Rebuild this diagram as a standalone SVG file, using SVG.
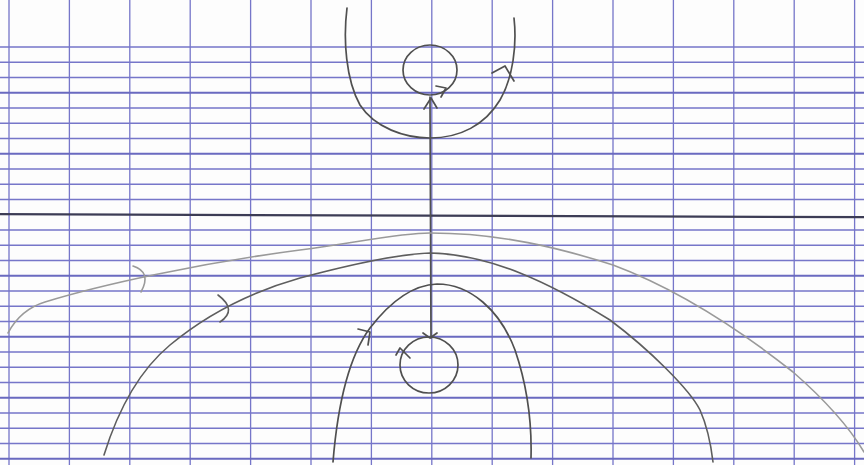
<svg xmlns="http://www.w3.org/2000/svg" width="864" height="465" viewBox="0 0 864 465">
<style>
.g{stroke:#7676c9;stroke-width:1.3;fill:none}
.gt{stroke:#6a6ac0;stroke-width:2;fill:none}
.p{stroke:#505050;stroke-width:1.7;fill:none;stroke-linecap:round;stroke-linejoin:round}
.pl{stroke:#9a9a9a;stroke-width:1.6;fill:none;stroke-linecap:round;stroke-linejoin:round}
.pm{stroke:#5e5e5e;stroke-width:1.6;fill:none;stroke-linecap:round;stroke-linejoin:round}
</style>
<rect width="864" height="465" fill="#fdfdfd"/>
<g id="grid">
<g class="g">
<path d="M9,0V465M69.4,0V465M129.8,0V465M190.2,0V465M250.6,0V465M311,0V465M371.4,0V465M431.8,0V465M492.2,0V465M552.6,0V465M613,0V465M673.4,0V465M733.8,0V465M794.2,0V465M854.6,0V465"/>
<path d="M0,47H864M0,62.25H864M0,77.5H864M0,108H864M0,123.25H864M0,138.5H864M0,169H864M0,184.25H864M0,199.5H864M0,230H864M0,245.25H864M0,260.5H864M0,291H864M0,306.25H864M0,321.5H864M0,352H864M0,367.25H864M0,382.5H864M0,413H864M0,428.25H864M0,443.5H864"/>
</g>
<path class="gt" d="M0,92.75H864M0,153.75H864M0,275.75H864M0,336.75H864M0,397.75H864M0,458.75H864"/>
<path d="M0,214.2L864,217.2" stroke="#3c3c55" stroke-width="2.2"/>
</g>
<g id="sketch">
<path id="upper-u" class="p" d="M347,8 C343,40 346,80 360,105 C375,128 405,138 430,138 C460,138 485,125 500,100 C513,78 517,45 514,18"/>
<path class="p" d="M492,73 L505,66 L514,81"/>
<ellipse id="top-circle" class="p" cx="430" cy="70" rx="27" ry="25"/>
<path class="p" d="M436,86 L446,88 L441,97"/>
<path id="axis-line" class="p" d="M430,97 L431,338"/>
<path class="p" d="M424,109 L431,98 L437,108"/>
<path class="p" d="M423,333 L430,338 L437,333"/>
<ellipse id="bottom-circle" class="p" cx="429" cy="365" rx="29" ry="28"/>
<path class="p" d="M396,355 L400,348 L410,358"/>
<path id="inner-arch" class="p" d="M333,462 C338,400 350,355 370,328 C390,302 412,285 437,284 C470,284 500,310 515,350 C527,385 532,420 531,458"/>
<path class="p" d="M358,329 L370,332 L368,345"/>
<path id="middle-arch" class="pm" d="M104,455 C118,410 140,370 170,345 C200,320 240,295 300,278 C360,262 400,254 430,253 C490,254 550,283 610,320 C650,350 690,390 700,410 C708,428 711,445 713,462"/>
<path class="pm" d="M218,295 Q238,310 220,322"/>
<path id="outer-arch" class="pl" d="M8,333 C15,320 25,308 45,302 C100,285 200,263 300,250 C360,242 400,233 430,233 C500,233 560,248 613,265 C680,290 740,330 793,372 C825,400 848,425 864,452"/>
<path class="pl" d="M133,266 Q152,272 141,292"/>
</g>
</svg>
